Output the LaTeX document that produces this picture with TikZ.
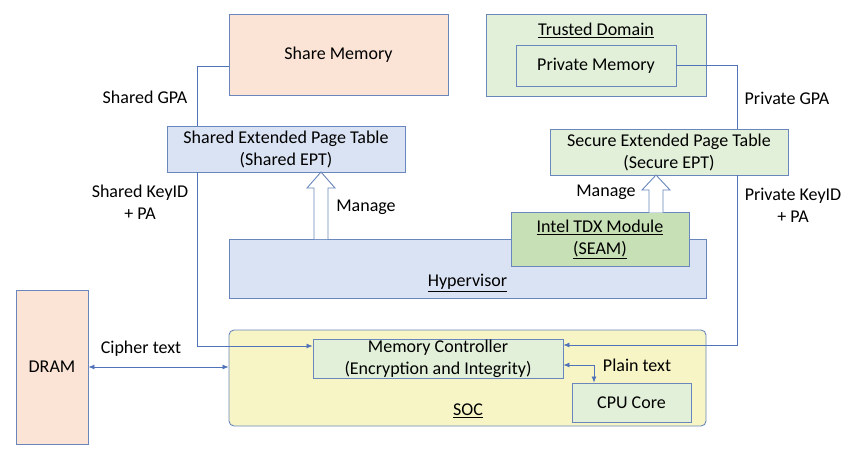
\documentclass[tikz,border=0pt]{standalone}
\usepackage{fontspec}
\setmainfont{Carlito}
\usetikzlibrary{positioning, arrows.meta}

\definecolor{edgeblue}{RGB}{105,135,188}
\definecolor{lineblue}{RGB}{80,115,185}
\definecolor{peach}{RGB}{251,228,214}
\definecolor{paleblue}{RGB}{218,227,243}
\definecolor{palegreen}{RGB}{226,240,217}
\definecolor{midgreen}{RGB}{200,224,181}
\definecolor{paleyellow}{RGB}{247,244,197}

\begin{document}
\begin{tikzpicture}[x=1pt, y=-1pt,
        box/.style={draw=edgeblue, line width=0.9pt, inner sep=0pt, align=center, font=\fontsize{18}{22}\selectfont},
        txt/.style={align=center, inner sep=0pt, font=\fontsize{18}{22}\selectfont},
        link/.style={draw=lineblue, line width=0.8pt},
        tip/.style={-{Latex[length=6pt, width=5pt]}},
        tips/.style={{Latex[length=6pt, width=5pt]}-{Latex[length=6pt, width=5pt]}},
        hollow/.style={draw=edgeblue, line width=0.9pt, fill=white}]
        \useasboundingbox (0,0) rectangle (852,458);

        % memories
        \node[box, fill=peach, minimum width=219, minimum height=81] (sharemem) at (338.5, 54.5) {Share Memory};
        \node[box, fill=palegreen, minimum width=220, minimum height=82] (td) at (596, 55) {};
        \node[txt] (tdtitle) at (596, 30) {\underline{Trusted Domain}};
        \node[box, fill=palegreen, minimum width=160, minimum height=41] (privmem) at (596, 65.5) {Private Memory};

        % page tables
        \node[box, fill=paleblue, minimum width=238, minimum height=46] (shept) at (286, 149) {Shared Extended Page Table\\(Shared EPT)};
        \node[box, fill=palegreen, minimum width=238, minimum height=46] (sept) at (669, 152) {Secure Extended Page Table\\(Secure EPT)};

        % hypervisor and module
        \node[box, fill=paleblue, minimum width=477, minimum height=59] (hyp) at (467.5, 268.5) {};
        \node[txt] (hyptitle) at (467.5, 283) {\underline{Hypervisor}};
        \node[box, fill=midgreen, minimum width=178, minimum height=54] (tdx) at (600, 239.5) {\underline{Intel TDX Module}\\\underline{(SEAM)}};

        % soc
        \node[box, fill=paleyellow, rounded corners=5pt, minimum width=477, minimum height=96] (soc) at (467.5, 378) {};
        \node[txt] (soctitle) at (468, 411) {\underline{SOC}};
        \node[box, fill=palegreen, minimum width=250, minimum height=39] (memctl) at (438, 358.5) {Memory Controller\\(Encryption and Integrity)};
        \node[box, fill=palegreen, minimum width=119, minimum height=39] (cpu) at (631.5, 402.5) {CPU Core};

        \node[box, fill=peach, minimum width=72, minimum height=154] (dram) at (52, 367) {DRAM};

        % labels
        \node[txt] (lsgpa) at (145, 97) {Shared GPA};
        \node[txt] (lskey) at (140, 202) {Shared KeyID\\+ PA};
        \node[txt] (lpgpa) at (787, 98) {Private GPA};
        \node[txt] (lpkey) at (793, 205) {Private KeyID\\+ PA};
        \node[txt] (lmng1) at (366, 207) {Manage};
        \node[txt] (lmng2) at (606, 192) {Manage};
        \node[txt] (lcipher) at (141, 349) {Cipher text};
        \node[txt] (lplain) at (637, 365) {Plain text};

        % connectors
        \draw[link] ([yshift=-11.5pt]sharemem.west) -| ([xshift=-89pt]shept.north);
        \draw[link, tip] ([xshift=-89pt]shept.south) |- ([yshift=12.5pt]memctl.west);
        \draw[link] (privmem.east) -| ([xshift=68pt]sept.north);
        \draw[link, tip] ([xshift=68pt]sept.south) |- ([yshift=13.5pt]memctl.east);
        \draw[link, tips] ([yshift=-6.5pt]memctl.east) -| ([xshift=-37.5pt]cpu.north);
        \draw[link, tips] (dram.east) -- (dram.east -| soc.west);

        % manage arrows
        \draw[hollow] (314,239) -- (314,188) -- (307,188) -- (321,172) -- (335,188) -- (328,188) -- (328,239);
        \draw[hollow] (649,212.5) -- (649,190) -- (642,190) -- (656,175) -- (670,190) -- (663,190) -- (663,212.5);
\end{tikzpicture}
\end{document}
